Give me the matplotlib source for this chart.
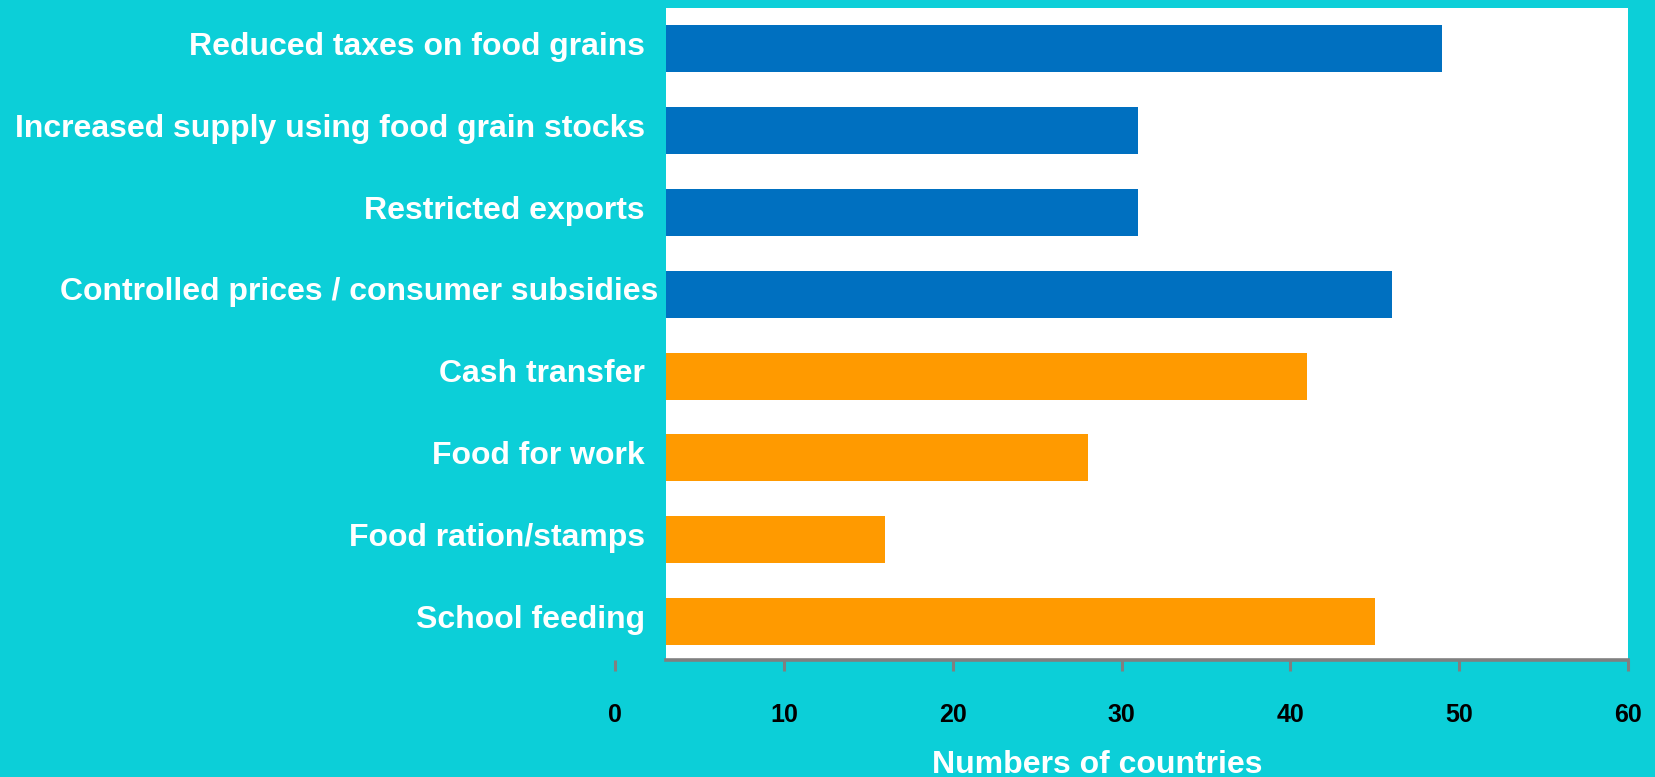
import matplotlib
matplotlib.use("Agg")
import matplotlib.pyplot as plt

# policy responses, top to bottom
measures = ["Reduced taxes on food grains",
            "Increased supply using food grain stocks",
            "Restricted exports",
            "Controlled prices / consumer subsidies",
            "Cash transfer",
            "Food for work",
            "Food ration/stamps",
            "School feeding"]
countries = [49, 31, 31, 46, 41, 28, 16, 45]
groups = ["market", "market", "market", "market",
          "safety", "safety", "safety", "safety"]
xticks = [0, 10, 20, 30, 40, 50, 60]

bg = "#0ccfd8"
colours = {"market": "#0070c0", "safety": "#ff9a00"}
plt.rcParams["font.family"] = ["Liberation Sans", "DejaVu Sans"]

W, H = 1656, 777
fig = plt.figure(figsize=(W / 100, H / 100), dpi=100, facecolor=bg)
ax = fig.add_axes([615 / W, 1 - 660 / H, (1628 - 615) / W, (660 - 8) / H])
ax.set_facecolor("none")

# white plotting panel starts a little right of zero
panel = ax.axvspan(3, 60, color="white", lw=0, zorder=0)

pos = list(range(len(measures)))
bars = ax.barh(pos, countries, height=0.575,
               color=[colours[g] for g in groups], zorder=2)
for b in bars:
    b.set_clip_path(panel)

ax.set_xlim(0, 60)
ax.set_ylim(7.47, -0.5)

for s in ["top", "right", "left"]:
    ax.spines[s].set_visible(False)
ax.spines["bottom"].set_color("#808080")
ax.spines["bottom"].set_linewidth(2.6)
ax.spines["bottom"].set_bounds(3, 60)

ax.set_yticks([])
ax.set_xticks(xticks)
ax.set_xticklabels([str(t) for t in xticks], fontsize=18, fontweight="bold",
                   color="black")
ax.tick_params(axis="x", length=8, width=2.2, color="#808080", pad=23)

# category labels sit just left of the panel
for i, name in enumerate(measures):
    dx = -7 if name.startswith("Controlled") else -21
    ax.annotate(name, xy=(3, i), xytext=(dx, -6), textcoords="offset pixels",
                ha="right", va="baseline", color="white",
                fontsize=23, fontweight="bold", annotation_clip=False)

fig.text(1097 / W, 1 - 773 / H, "Numbers of countries", ha="center",
         va="baseline", color="white", fontsize=23, fontweight="bold")

fig.savefig("out.png", dpi=100, facecolor=bg)
